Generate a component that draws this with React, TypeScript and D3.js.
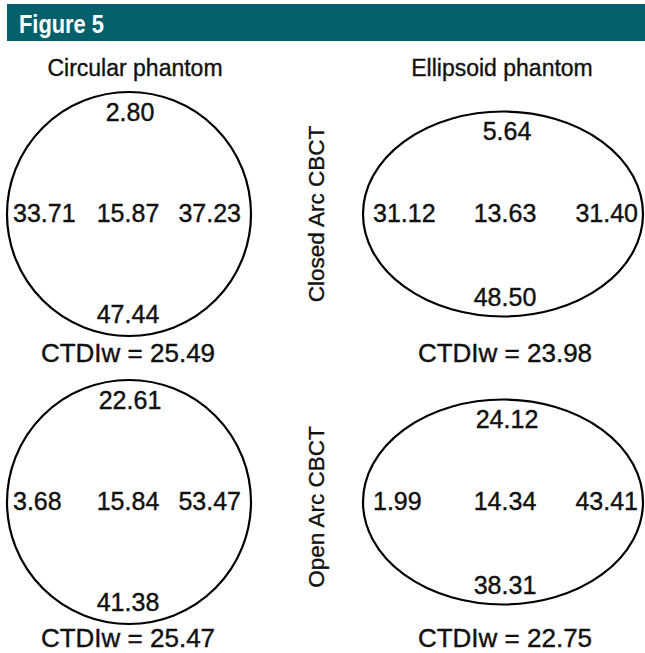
import React from "react";
import * as d3 from "d3";

const figureTitle = "Figure 5";
const phantoms = ["Circular phantom", "Ellipsoid phantom"];
const protocols = ["Closed Arc CBCT", "Open Arc CBCT"];

// panel order: [Circular/Closed, Ellipsoid/Closed, Circular/Open, Ellipsoid/Open]
const topDose = ["2.80", "5.64", "22.61", "24.12"];
const leftDose = ["33.71", "31.12", "3.68", "1.99"];
const centerDose = ["15.87", "13.63", "15.84", "14.34"];
const rightDose = ["37.23", "31.40", "53.47", "43.41"];
const bottomDose = ["47.44", "48.50", "41.38", "38.31"];
const ctdiw = ["25.49", "23.98", "25.47", "22.75"];

const W = 645;
const H = 653;
const FONT = "Arial, 'Liberation Sans', Helvetica, sans-serif";
const INK = "#111";

export default function App() {
  const x = d3.scalePoint<string>().domain(phantoms).range([129, 503]);
  const y = d3.scalePoint<string>().domain(protocols).range([214, 502]);
  const shape: Record<string, { rx: number; ry: number; inL: number; inR: number; topOff: number; botOff: number }> = {
    "Circular phantom": { rx: 122, ry: 122, inL: 116, inR: 112, topOff: 29, botOff: 13 },
    "Ellipsoid phantom": { rx: 140, ry: 102.5, inL: 130, inR: 135, topOff: 28, botOff: 11 },
  };
  const ctdiY = d3.scalePoint<string>().domain(protocols).range([362, 647]);

  const panels: { ph: string; pr: string; i: number }[] = [];
  protocols.forEach((pr, r) =>
    phantoms.forEach((ph, c) => panels.push({ ph, pr, i: r * 2 + c }))
  );

  const textStyle = { fontFamily: FONT };

  return (
    <svg
      width={W}
      height={H}
      viewBox={`0 0 ${W} ${H}`}
      style={{ position: "absolute", left: 0, top: 0, background: "#fff", fontFamily: FONT }}
    >
      <rect x={7} y={4} width={W - 7} height={37} fill="#04616c" />
      <text
        x={19}
        y={33}
        fill="#fff"
        fontWeight="bold"
        fontSize={25}
        textLength={85}
        lengthAdjust="spacingAndGlyphs"
        style={{ fontFamily: "'Liberation Sans Narrow', Arial, 'Liberation Sans', sans-serif" }}
      >
        {figureTitle}
      </text>

      {phantoms.map((ph) => (
        <text
          key={ph}
          x={x(ph)! + (ph === phantoms[0] ? 6 : -1)}
          y={76}
          fontSize={23}
          textAnchor="middle"
          fill={INK}
          stroke={INK}
          strokeWidth={0.35}
          style={textStyle}
        >
          {ph}
        </text>
      ))}

      {protocols.map((pr) => (
        <text
          key={pr}
          transform={`translate(${324},${y(pr)! + (pr === protocols[0] ? 0 : 5)}) rotate(-90)`}
          fontSize={22.5}
          textAnchor="middle"
          fill={INK}
          stroke={INK}
          strokeWidth={0.35}
          style={textStyle}
        >
          {pr}
        </text>
      ))}

      {panels.map(({ ph, pr, i }) => {
        const cx = x(ph)!;
        const cy = y(pr)!;
        const s = shape[ph];
        const mid = cx + (ph === phantoms[0] ? -1 : 2);
        return (
          <g key={i}>
            <ellipse cx={cx} cy={cy} rx={s.rx} ry={s.ry} fill="none" stroke="#000" strokeWidth={2.2} />
            <g fill={INK} stroke={INK} strokeWidth={0.4} fontSize={25} style={textStyle}>
              <text x={mid + 2} y={cy - s.ry + s.topOff} textAnchor="middle">{topDose[i]}</text>
              <text x={cx - s.inL} y={cy + 8} textAnchor="start">{leftDose[i]}</text>
              <text x={mid} y={cy + 8} textAnchor="middle">{centerDose[i]}</text>
              <text x={cx + s.inR} y={cy + 8} textAnchor="end">{rightDose[i]}</text>
              <text x={mid} y={cy + s.ry - s.botOff} textAnchor="middle">{bottomDose[i]}</text>
              <text x={mid} y={ctdiY(pr)!} textAnchor="middle" fontSize={26}>
                {`CTDIw = ${ctdiw[i]}`}
              </text>
            </g>
          </g>
        );
      })}
    </svg>
  );
}
